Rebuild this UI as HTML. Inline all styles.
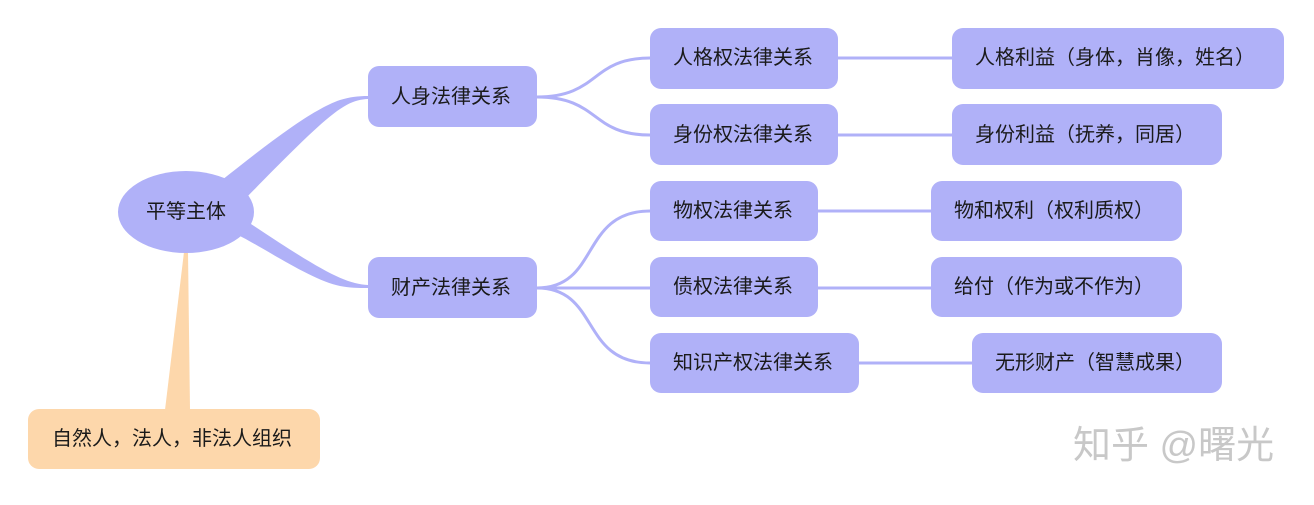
<!DOCTYPE html>
<html><head><meta charset="utf-8"><style>
body{margin:0;background:#fff;width:1314px;height:500px;overflow:hidden}
svg text{font-family:"Liberation Sans","Noto Sans CJK SC",sans-serif;font-size:20px;fill:#1a1a1a;dominant-baseline:central}
</style></head><body>
<svg width="1314" height="500" viewBox="0 0 1314 500">
<g fill="#b0b1f8" stroke="none">
<path d="M222,180 C260,150 310,110 340,100 C350,97 358,96 368,96 L368,99 C345,100 330,112 246,198 Z"/>
<path d="M232,232 C260,245 310,280 340,286 C350,288 358,288 368,288 L368,285 C345,284 320,270 248,222 Z"/>
</g>
<g fill="none" stroke="#b0b1f8" stroke-width="3">
<path d="M537,97 C600,97 590,58 650,58"/>
<path d="M537,97 C600,97 590,135 650,135"/>
<path d="M537,288 C600,288 580,211 650,211"/>
<path d="M537,288 L650,288"/>
<path d="M537,288 C600,288 580,363 650,363"/>
<path d="M838,58 L952,58"/>
<path d="M838,135 L952,135"/>
<path d="M818,211 L931,211"/>
<path d="M818,288 L931,288"/>
<path d="M859,363 L972,363"/>
</g>
<path d="M184,252 L188,252 L190,410 L165,410 Z" fill="#fdd7ab"/>
<ellipse cx="186" cy="212" rx="68" ry="41" fill="#b0b1f8"/>
<text x="186" y="212" text-anchor="middle">平等主体</text>
<g fill="#b0b1f8">
<rect x="368" y="66" width="169" height="61" rx="11"/>
<rect x="368" y="257" width="169" height="61" rx="11"/>
<rect x="650" y="28" width="188" height="61" rx="11"/>
<rect x="650" y="104" width="188" height="61" rx="11"/>
<rect x="650" y="181" width="168" height="60" rx="11"/>
<rect x="650" y="257" width="168" height="60" rx="11"/>
<rect x="650" y="333" width="209" height="60" rx="11"/>
<rect x="952" y="28" width="332" height="61" rx="11"/>
<rect x="952" y="104" width="270" height="61" rx="11"/>
<rect x="931" y="181" width="251" height="60" rx="11"/>
<rect x="931" y="257" width="251" height="60" rx="11"/>
<rect x="972" y="333" width="250" height="60" rx="11"/>
</g>
<rect x="28" y="409" width="292" height="60" rx="11" fill="#fdd7ab"/>
<text x="391" y="97">人身法律关系</text>
<text x="391" y="288">财产法律关系</text>
<text x="673" y="58">人格权法律关系</text>
<text x="673" y="135">身份权法律关系</text>
<text x="673" y="211">物权法律关系</text>
<text x="673" y="287">债权法律关系</text>
<text x="673" y="363">知识产权法律关系</text>
<text x="975" y="58">人格利益（身体，肖像，姓名）</text>
<text x="975" y="135">身份利益（抚养，同居）</text>
<text x="954" y="211">物和权利（权利质权）</text>
<text x="954" y="287">给付（作为或不作为）</text>
<text x="995" y="363">无形财产（智慧成果）</text>
<text x="52" y="439">自然人，法人，非法人组织</text>
<text x="1073" y="446" style="font-size:38px;fill:#c8c8c8">知乎 @曙光</text>
</svg>
</body></html>
